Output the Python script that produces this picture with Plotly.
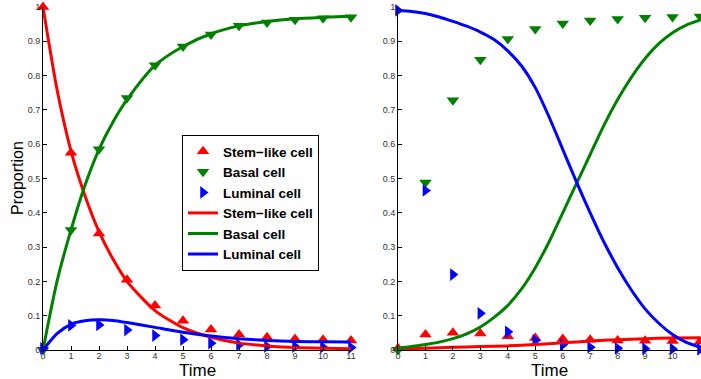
import plotly.graph_objects as go

# ---- data ----
t_obs = [0, 1, 2, 3, 4, 5, 6, 7, 8, 9, 10, 11]

# Left panel observations
L_stem_obs = [1.0, 0.575, 0.34, 0.205, 0.13, 0.085, 0.06, 0.045, 0.037, 0.032, 0.03, 0.028]
L_basal_obs = [0.0, 0.35, 0.585, 0.735, 0.83, 0.885, 0.92, 0.945, 0.955, 0.963, 0.967, 0.97]
L_lum_obs = [0.005, 0.072, 0.073, 0.058, 0.042, 0.03, 0.02, 0.015, 0.01, 0.01, 0.008, 0.007]

# Left panel fitted curves
t_fit_L = [0, 0.5, 1, 1.5, 2, 2.5, 3, 4, 5, 6, 7, 8, 9, 10, 11]
L_stem_fit = [1.0, 0.76, 0.58, 0.45, 0.345, 0.265, 0.2, 0.115, 0.065, 0.037, 0.02, 0.012, 0.007, 0.005, 0.004]
L_basal_fit = [0.0, 0.2, 0.35, 0.48, 0.585, 0.665, 0.73, 0.83, 0.885, 0.922, 0.945, 0.958, 0.966, 0.97, 0.973]
L_lum_fit = [0.0, 0.048, 0.075, 0.085, 0.088, 0.086, 0.08, 0.066, 0.052, 0.041, 0.033, 0.028, 0.025, 0.024, 0.023]

# Right panel observations
R_stem_obs = [0.005, 0.045, 0.05, 0.048, 0.04, 0.035, 0.032, 0.03, 0.028, 0.027, 0.026, 0.025]
R_basal_obs = [0.0, 0.488, 0.728, 0.846, 0.907, 0.936, 0.952, 0.961, 0.965, 0.969, 0.971, 0.972]
R_lum_obs = [0.99, 0.465, 0.22, 0.107, 0.053, 0.028, 0.015, 0.008, 0.005, 0.004, 0.003, 0.002]

# Right panel fitted curves
t_fit_R_stem = [0, 1, 2, 3, 4, 5, 6, 7, 8, 9, 10, 11]
R_stem_fit = [0.003, 0.005, 0.008, 0.01, 0.012, 0.016, 0.021, 0.026, 0.03, 0.033, 0.035, 0.036]
t_fit_R = [0, 0.5, 1, 1.5, 2, 2.5, 3, 3.5, 4, 4.5, 5, 5.5, 6, 6.5, 7, 7.5, 8, 8.5, 9, 9.5, 10, 10.5, 11]
R_basal_fit = [0.005, 0.01, 0.016, 0.023, 0.033, 0.047, 0.067, 0.095, 0.13, 0.178, 0.24, 0.315, 0.40,
               0.485, 0.57, 0.655, 0.73, 0.795, 0.85, 0.893, 0.925, 0.947, 0.962]
R_lum_fit = [0.99, 0.987, 0.981, 0.971, 0.958, 0.944, 0.927, 0.905, 0.872, 0.828, 0.765, 0.68, 0.585,
             0.49, 0.40, 0.315, 0.24, 0.175, 0.12, 0.078, 0.045, 0.022, 0.008]

names = ["Stem\u2212like cell", "Basal cell", "Luminal cell"]
colors = ["#ff0000", "#008000", "#0000ff"]
symbols = ["triangle-up", "triangle-down", "triangle-right"]

fig = go.Figure()

def add_panel(obs, fits, t_fits, xa, ya, show):
    for i in range(3):
        fig.add_trace(go.Scatter(x=t_obs, y=obs[i], mode="markers", name=names[i],
                                 marker=dict(symbol=symbols[i], color=colors[i], size=11, line=dict(width=0)),
                                 xaxis=xa, yaxis=ya, showlegend=show, cliponaxis=False))
    for i in range(3):
        fig.add_trace(go.Scatter(x=t_fits[i], y=fits[i], mode="lines", name=names[i],
                                 line=dict(color=colors[i], width=3, shape="spline", smoothing=0.7),
                                 xaxis=xa, yaxis=ya, showlegend=show, cliponaxis=False))

add_panel([L_stem_obs, L_basal_obs, L_lum_obs], [L_stem_fit, L_basal_fit, L_lum_fit],
          [t_fit_L, t_fit_L, t_fit_L], "x", "y", True)
add_panel([R_stem_obs, R_basal_obs, R_lum_obs], [R_stem_fit, R_basal_fit, R_lum_fit],
          [t_fit_R_stem, t_fit_R, t_fit_R], "x2", "y2", False)

W, H = 701, 379
ydom = [(H - 350) / H, (H - 7) / H]
yticks = [0, 0.1, 0.2, 0.3, 0.4, 0.5, 0.6, 0.7, 0.8, 0.9, 1]
ytext = ["0", "0.1", "0.2", "0.3", "0.4", "0.5", "0.6", "0.7", "0.8", "0.9", "1"]
xticks = list(range(12))

axis_common = dict(showgrid=False, zeroline=False, showline=True, linecolor="black", linewidth=1,
                   ticks="inside", ticklen=4, tickcolor="black", tickfont=dict(size=9, color="#333333"),
                   mirror=False, automargin=False)

fig.update_layout(
    width=W, height=H, margin=dict(l=0, r=0, t=0, b=0, autoexpand=False),
    paper_bgcolor="white", plot_bgcolor="white",
    font=dict(family="Liberation Sans, Arial, sans-serif"),
    xaxis=dict(domain=[43 / W, 351 / W], range=[0, 11], tickvals=xticks, anchor="y",
               ticklabelstandoff=-3, **axis_common),
    yaxis=dict(domain=ydom, range=[0, 1], tickvals=yticks, ticktext=ytext, anchor="x", **axis_common),
    xaxis2=dict(domain=[398 / W, 700 / W], range=[0, 11], tickvals=xticks, anchor="y2",
                ticklabelstandoff=-3, **axis_common),
    yaxis2=dict(domain=ydom, range=[0, 1], tickvals=yticks, ticktext=ytext, anchor="x2", **axis_common),
    legend=dict(x=182 / W, y=(H - 135) / H, xanchor="left", yanchor="top",
                bgcolor="white", bordercolor="black", borderwidth=1,
                font=dict(size=13.5, color="black", family="Liberation Sans, Arial, sans-serif", weight="bold"),
                tracegroupgap=0, itemwidth=30),
    annotations=[
        dict(text="Time", x=197 / W, y=(H - 370) / H, xref="paper", yref="paper", showarrow=False,
             xanchor="center", yanchor="middle", font=dict(size=17, color="black")),
        dict(text="Time", x=549 / W, y=(H - 370) / H, xref="paper", yref="paper", showarrow=False,
             xanchor="center", yanchor="middle", font=dict(size=17, color="black")),
        dict(text="Proportion", x=18 / W, y=(H - 178) / H, xref="paper", yref="paper", showarrow=False,
             xanchor="center", yanchor="middle", textangle=-90, font=dict(size=16, color="black")),
    ],
)

fig.write_html("out.html", config={"displayModeBar": False},
               post_script="document.body.style.margin='0';document.body.style.overflow='hidden';")
